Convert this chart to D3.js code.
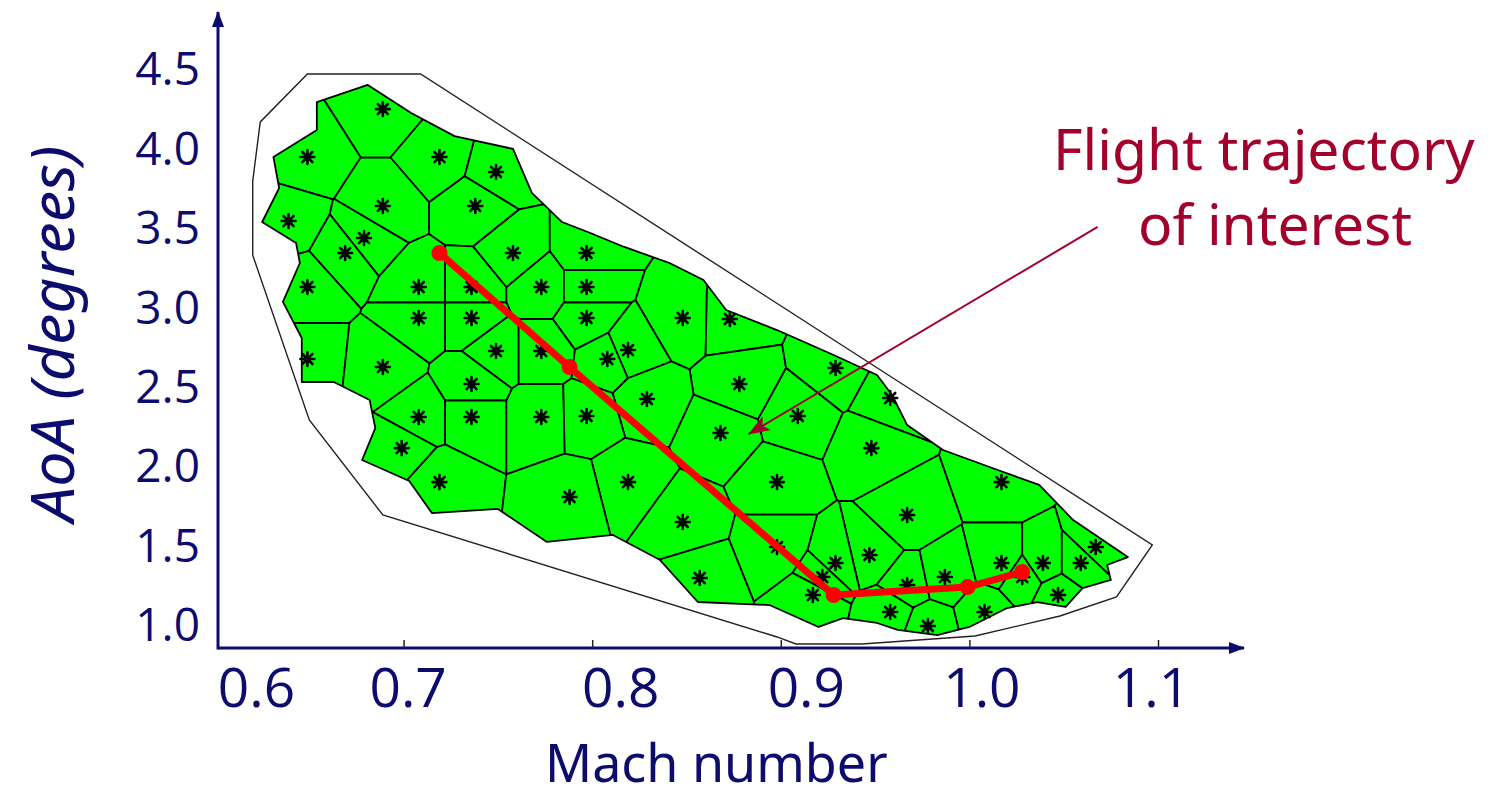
<!DOCTYPE html>
<html>
<head>
<meta charset="utf-8">
<script src="https://cdn.jsdelivr.net/npm/d3@7"></script>
<style>
  body { margin: 0; background: #fff; }
  svg { display: block; }
</style>
</head>
<body>
<div id="chart"></div>
<script>
// ---------------------------------------------------------------
// data (Mach number, angle of attack in degrees)
// ---------------------------------------------------------------

// sample points, one voronoi cell each
const siteMach = [0.689, 0.649, 0.719, 0.749, 0.639, 0.689, 0.738, 0.679, 0.669, 0.758,
    0.797, 0.649, 0.708, 0.736, 0.773, 0.797, 0.708, 0.736, 0.797, 0.848,
    0.873, 0.749, 0.773, 0.819, 0.808, 0.649, 0.689, 0.736, 0.878, 0.929,
    0.958, 0.829, 0.708, 0.736, 0.773, 0.797, 0.909, 0.868, 0.699, 0.948,
    0.719, 0.819, 0.898, 0.788, 0.848, 0.967, 1.017, 0.857, 0.898, 0.947,
    0.929, 0.922, 0.917, 0.967, 0.987, 1.017, 1.067, 1.039, 1.059, 1.028,
    0.958, 0.978, 1.008, 1.047]
const siteAoA = [4.254, 3.952, 3.952, 3.858, 3.549, 3.644, 3.644, 3.442, 3.348, 3.348,
    3.348, 3.134, 3.134, 3.134, 3.134, 3.134, 2.939, 2.939, 2.939, 2.939,
    2.933, 2.731, 2.731, 2.737, 2.681, 2.681, 2.630, 2.523, 2.523, 2.624,
    2.435, 2.429, 2.316, 2.316, 2.316, 2.322, 2.322, 2.215, 2.120, 2.120,
    1.906, 1.906, 1.906, 1.812, 1.655, 1.699, 1.906, 1.302, 1.497, 1.447,
    1.397, 1.308, 1.195, 1.258, 1.308, 1.397, 1.497, 1.397, 1.397, 1.308,
    1.088, 1.000, 1.088, 1.195]

// flight trajectory of interest
const trajMach = [0.719, 0.788, 0.928, 0.999, 1.028]
const trajAoA = [3.348, 2.630, 1.195, 1.245, 1.340]

// outline of the covered (green) region
const regionMach = [0.654, 0.681, 0.704, 0.727, 0.758, 0.768, 0.784, 0.799, 0.817, 0.841,
    0.859, 0.871, 0.898, 0.928, 0.951, 0.959, 0.967, 0.986, 1.015, 1.037,
    1.055, 1.084, 1.073, 1.075, 1.060, 1.051, 1.036, 1.020, 1.000, 0.983,
    0.962, 0.951, 0.933, 0.920, 0.894, 0.856, 0.836, 0.811, 0.776, 0.750,
    0.715, 0.703, 0.678, 0.685, 0.682, 0.663, 0.646, 0.646, 0.636, 0.645,
    0.643, 0.625, 0.634, 0.631, 0.654]
const regionAoA = [4.298, 4.406, 4.229, 4.084, 4.003, 3.726, 3.543, 3.474, 3.386, 3.285,
    3.178, 2.989, 2.863, 2.706, 2.580, 2.454, 2.265, 2.108, 1.982, 1.888,
    1.667, 1.434, 1.384, 1.290, 1.239, 1.120, 1.151, 1.113, 0.994, 0.943,
    0.975, 1.019, 1.050, 0.994, 1.132, 1.151, 1.415, 1.573, 1.529, 1.737,
    1.711, 1.913, 2.045, 2.246, 2.423, 2.536, 2.536, 2.813, 3.040, 3.285,
    3.411, 3.543, 3.757, 3.952, 4.122]

// outer envelope
const hullMach = [0.649, 0.709, 1.097, 1.078, 1.048, 1.003, 0.943, 0.908, 0.898, 0.689, 0.650, 0.620, 0.620, 0.624]
const hullAoA = [4.475, 4.475, 1.510, 1.183, 1.063, 0.937, 0.887, 0.887, 0.931, 1.699, 2.297, 3.335, 3.801, 4.173]

// tick labels
const xTicks = [0.6, 0.7, 0.8, 0.9, 1.0, 1.1]
const yTicks = [1.0, 1.5, 2.0, 2.5, 3.0, 3.5, 4.0, 4.5]

// annotation arrow: from text towards the trajectory
const noteMach = [1.068, 0.883]
const noteAoA = [3.512, 2.209]

// ---------------------------------------------------------------
// layout
// ---------------------------------------------------------------
const width = 1491, height = 798
const originX = 218, originY = 648
const navy = '#0c0c6e', wine = '#a3002b'
const xLabelShift = [41, 4, 28, 25, 12, -7]   // hand placed labels in the original

const xScale = d3.scaleLinear().domain([0.6, 1.1]).range([215, 1158])
const yScale = d3.scaleLinear().domain([1.0, 4.5]).range([626, 70])

const svg = d3.select('#chart').append('svg')
    .attr('width', width)
    .attr('height', height)
    .style('background', '#fff')

const defs = svg.append('defs')

const toPts = (ms, as) => ms.map((m, i) => [xScale(m), yScale(as[i])])
const sites = toPts(siteMach, siteAoA)
const region = toPts(regionMach, regionAoA)
const hull = toPts(hullMach, hullAoA)
const traj = toPts(trajMach, trajAoA)

const closed = d3.line().curve(d3.curveLinearClosed)

defs.append('clipPath').attr('id', 'region-clip')
    .append('path').attr('d', closed(region))

// ---------------------------------------------------------------
// voronoi cells
// ---------------------------------------------------------------
const voronoi = d3.Delaunay.from(sites).voronoi([0, 0, width, height])

svg.append('g')
    .attr('clip-path', 'url(#region-clip)')
    .selectAll('path')
    .data(sites)
    .join('path')
    .attr('d', (d, i) => voronoi.renderCell(i))
    .attr('fill', '#00ff00')
    .attr('stroke', '#000')
    .attr('stroke-width', 1.8)

svg.append('path')
    .attr('d', closed(region))
    .attr('fill', 'none')
    .attr('stroke', '#000')
    .attr('stroke-width', 1.8)
    .attr('stroke-linejoin', 'round')

svg.append('path')
    .attr('d', closed(hull))
    .attr('fill', 'none')
    .attr('stroke', '#222')
    .attr('stroke-width', 1.4)

// asterisk markers
function asterisk(s) {
    let d = s * 0.72
    return `M${-s},0L${s},0M0,${-s}L0,${s}M${-d},${-d}L${d},${d}M${-d},${d}L${d},${-d}`
}
svg.append('g')
    .selectAll('path')
    .data(sites)
    .join('path')
    .attr('transform', d => `translate(${d[0]},${d[1]})`)
    .attr('d', asterisk(7))
    .attr('stroke', '#000')
    .attr('stroke-width', 2.6)
    .attr('stroke-linecap', 'round')

// ---------------------------------------------------------------
// trajectory
// ---------------------------------------------------------------
svg.append('path')
    .attr('d', d3.line()(traj))
    .attr('fill', 'none')
    .attr('stroke', '#ff0000')
    .attr('stroke-width', 7)
    .attr('stroke-linejoin', 'round')

svg.append('g')
    .selectAll('circle')
    .data(traj)
    .join('circle')
    .attr('cx', d => d[0])
    .attr('cy', d => d[1])
    .attr('r', 8)
    .attr('fill', '#ff0000')

// ---------------------------------------------------------------
// axes
// ---------------------------------------------------------------
defs.append('marker').attr('id', 'axis-head')
    .attr('viewBox', '0 0 16 12').attr('refX', 15).attr('refY', 6)
    .attr('markerWidth', 16).attr('markerHeight', 12)
    .attr('markerUnits', 'userSpaceOnUse').attr('orient', 'auto')
    .append('path').attr('d', 'M0,0L16,6L0,12Z').attr('fill', navy)

svg.append('line')
    .attr('x1', originX).attr('y1', originY).attr('x2', 1244).attr('y2', originY)
    .attr('stroke', navy).attr('stroke-width', 3)
    .attr('marker-end', 'url(#axis-head)')
svg.append('line')
    .attr('x1', originX).attr('y1', originY + 1.5).attr('x2', originX).attr('y2', 12)
    .attr('stroke', navy).attr('stroke-width', 3)
    .attr('marker-end', 'url(#axis-head)')

let xAxis = svg.append('g')
    .attr('transform', `translate(0,${originY})`)
    .call(d3.axisBottom(xScale).tickValues(xTicks).tickFormat(d3.format('.1f'))
        .tickSizeInner(-8).tickSizeOuter(0).tickPadding(20))
xAxis.select('.domain').remove()
xAxis.selectAll('.tick line')
    .attr('stroke', '#222').attr('stroke-width', 1.5)
    .filter(d => d === 0.6).remove()
xAxis.selectAll('.tick text')
    .attr('x', (d, i) => xLabelShift[i])
    .attr('fill', navy)
    .style('font-family', '"Open Sans", sans-serif')
    .style('font-size', '55px')

let yAxis = svg.append('g')
    .attr('transform', `translate(${originX},0)`)
    .call(d3.axisLeft(yScale).tickValues(yTicks).tickFormat(d3.format('.1f'))
        .tickSize(0).tickPadding(18))
yAxis.select('.domain').remove()
yAxis.selectAll('.tick text')
    .attr('fill', navy)
    .style('font-family', '"Open Sans", sans-serif')
    .style('font-size', '46px')

// axis titles
svg.append('text')
    .attr('transform', 'translate(545,782)')
    .attr('fill', navy)
    .style('font-family', '"Noto Sans", sans-serif')
    .style('font-size', '52px')
    .text('Mach number')

svg.append('text')
    .attr('transform', 'translate(74,522) rotate(-90) scale(1.03,1)')
    .attr('fill', navy)
    .style('font-family', '"Noto Sans", sans-serif')
    .style('font-size', '61px')
    .style('font-style', 'italic')
    .text('AoA (degrees)')

// ---------------------------------------------------------------
// annotation
// ---------------------------------------------------------------
defs.append('marker').attr('id', 'note-head')
    .attr('viewBox', '0 0 22 16').attr('refX', 21).attr('refY', 8)
    .attr('markerWidth', 22).attr('markerHeight', 16)
    .attr('markerUnits', 'userSpaceOnUse').attr('orient', 'auto')
    .append('path').attr('d', 'M0,0L22,8L0,16L5,8Z').attr('fill', wine)

svg.append('line')
    .attr('x1', xScale(noteMach[0])).attr('y1', yScale(noteAoA[0]))
    .attr('x2', xScale(noteMach[1])).attr('y2', yScale(noteAoA[1]))
    .attr('stroke', wine).attr('stroke-width', 2)
    .attr('marker-end', 'url(#note-head)')

svg.append('text')
    .attr('transform', 'translate(1053,170)')
    .attr('fill', wine)
    .style('font-family', '"Noto Sans", sans-serif')
    .style('font-size', '57px')
    .text('Flight trajectory')

svg.append('text')
    .attr('transform', 'translate(1138,245)')
    .attr('fill', wine)
    .style('font-family', '"Noto Sans", sans-serif')
    .style('font-size', '57px')
    .text('of interest')
</script>
</body>
</html>
